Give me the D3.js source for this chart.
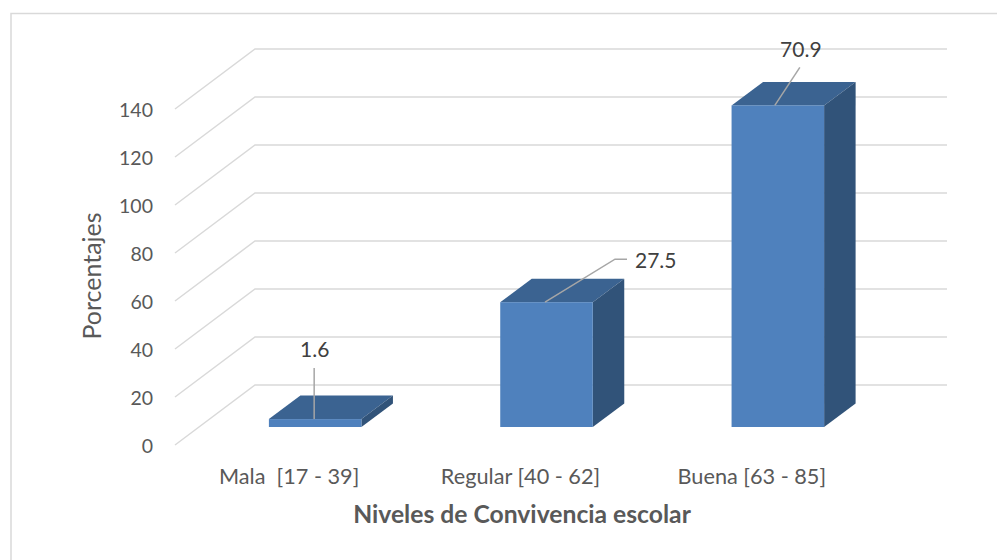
<!DOCTYPE html>
<html>
<head>
<meta charset="utf-8">
<script src="https://cdn.jsdelivr.net/npm/d3@7"></script>
<style>
    html, body { margin: 0; padding: 0; background: #fff; }
    svg { display: block; }
    text { font-family: Lato, "Open Sans", sans-serif; }
</style>
</head>
<body>
<svg id="chart" width="997" height="560"></svg>
<script>
const categories = ['Mala  [17 - 39]', 'Regular [40 - 62]', 'Buena [63 - 85]'];
// printed labels
const labels = ['1.6', '27.5', '70.9'];
// height of the bars read against the axis (the axis is not the label value)
const plotted = [3.3, 52, 134];
const yTicks = [0, 20, 40, 60, 80, 100, 120, 140];

const wall = { dx: 80, dy: -60 };     // floor depth
const barOffset = { dx: 24, dy: -18 }; // bar front inside the floor
const barDepth = { dx: 31.5, dy: -23.5 };

const svg = d3.select('#chart');

const xScale = d3.scaleBand()
    .domain(categories)
    .range([175.5, 869.5])
    .paddingInner(0.6)
    .paddingOuter(0.3);

const yScale = d3.scaleLinear()
    .domain([0, 140])
    .range([445, 109]);

// frame, open on the right and at the bottom
svg.append('path')
    .attr('d', 'M11,560V13.5H997')
    .attr('fill', 'none')
    .attr('stroke', '#d9d9d9')
    .attr('stroke-width', 1.5);

// grid lines, front edge to wall and along the wall
svg.append('g')
    .selectAll('path')
    .data(yTicks)
    .join('path')
    .attr('d', (d) => {
        const y = yScale(d);
        return d3.line()([[175, y], [175 + wall.dx, y + wall.dy], [947, y + wall.dy]]);
    })
    .attr('fill', 'none')
    .attr('stroke', '#d9d9d9')
    .attr('stroke-width', 1.5);

// tick labels
svg.append('g')
    .selectAll('text')
    .data(yTicks)
    .join('text')
    .attr('x', 153)
    .attr('y', (d) => yScale(d) + 8)
    .attr('text-anchor', 'end')
    .attr('font-size', 19.5)
    .attr('fill', '#595959')
    .text((d) => d);

// bars
const bars = svg.append('g')
    .selectAll('g')
    .data(plotted)
    .join('g');

const front = (d, i) => {
    const x0 = xScale(categories[i]) + barOffset.dx;
    return {
        x0: x0,
        x1: x0 + xScale.bandwidth(),
        y0: yScale(0) + barOffset.dy,
        y1: yScale(d) + barOffset.dy
    };
};

bars.append('path')
    .attr('fill', '#3b6391')
    .attr('d', (d, i) => {
        const f = front(d, i);
        return d3.line()([
            [f.x0, f.y1], [f.x1, f.y1],
            [f.x1 + barDepth.dx, f.y1 + barDepth.dy],
            [f.x0 + barDepth.dx, f.y1 + barDepth.dy]
        ]) + 'Z';
    });

bars.append('path')
    .attr('fill', '#315379')
    .attr('d', (d, i) => {
        const f = front(d, i);
        return d3.line()([
            [f.x1, f.y1], [f.x1, f.y0],
            [f.x1 + barDepth.dx, f.y0 + barDepth.dy],
            [f.x1 + barDepth.dx, f.y1 + barDepth.dy]
        ]) + 'Z';
    });

bars.append('rect')
    .attr('fill', '#4f81bd')
    .attr('x', (d, i) => front(d, i).x0)
    .attr('y', (d, i) => front(d, i).y1)
    .attr('width', xScale.bandwidth())
    .attr('height', (d, i) => front(d, i).y0 - front(d, i).y1);

// leader lines, each one starts near the middle of the bar's front top edge
const leaders = [
    (x, y) => [[x - 1, y], [x - 1, y - 51]],
    (x, y) => [[x - 1.5, y], [x + 68.5, y - 43], [x + 80.5, y - 43]],
    (x, y) => [[x - 3, y], [x + 22, y - 38]]
];
const labelOffset = [
    { dx: -0.5, dy: -62, anchor: 'middle' },
    { dx: 88.5, dy: -34.5, anchor: 'start' },
    { dx: 23, dy: -48, anchor: 'middle' }
];

bars.append('path')
    .attr('fill', 'none')
    .attr('stroke', '#a6a6a6')
    .attr('stroke-width', 1.5)
    .attr('d', (d, i) => {
        const f = front(d, i);
        return d3.line()(leaders[i]((f.x0 + f.x1) / 2, f.y1));
    });

bars.append('text')
    .attr('x', (d, i) => (front(d, i).x0 + front(d, i).x1) / 2 + labelOffset[i].dx)
    .attr('y', (d, i) => front(d, i).y1 + labelOffset[i].dy)
    .attr('text-anchor', (d, i) => labelOffset[i].anchor)
    .attr('font-size', 21)
    .attr('fill', '#404040')
    .text((d, i) => labels[i]);

// category labels
svg.append('g')
    .selectAll('text')
    .data(categories)
    .join('text')
    .attr('x', (d) => xScale(d) + xScale.bandwidth() / 2 - 2)
    .attr('y', 483.5)
    .attr('text-anchor', 'middle')
    .attr('font-size', 21.7)
    .attr('xml:space', 'preserve')
    .attr('fill', '#595959')
    .text((d) => d);

// axis titles
svg.append('text')
    .attr('x', 522)
    .attr('y', 523)
    .attr('text-anchor', 'middle')
    .attr('font-size', 24.7)
    .attr('font-weight', 700)
    .attr('fill', '#595959')
    .text('Niveles de Convivencia escolar');

svg.append('text')
    .attr('transform', 'translate(101,276) rotate(-90)')
    .attr('text-anchor', 'middle')
    .attr('font-size', 25)
    .attr('fill', '#595959')
    .text('Porcentajes');
</script>
</body>
</html>
